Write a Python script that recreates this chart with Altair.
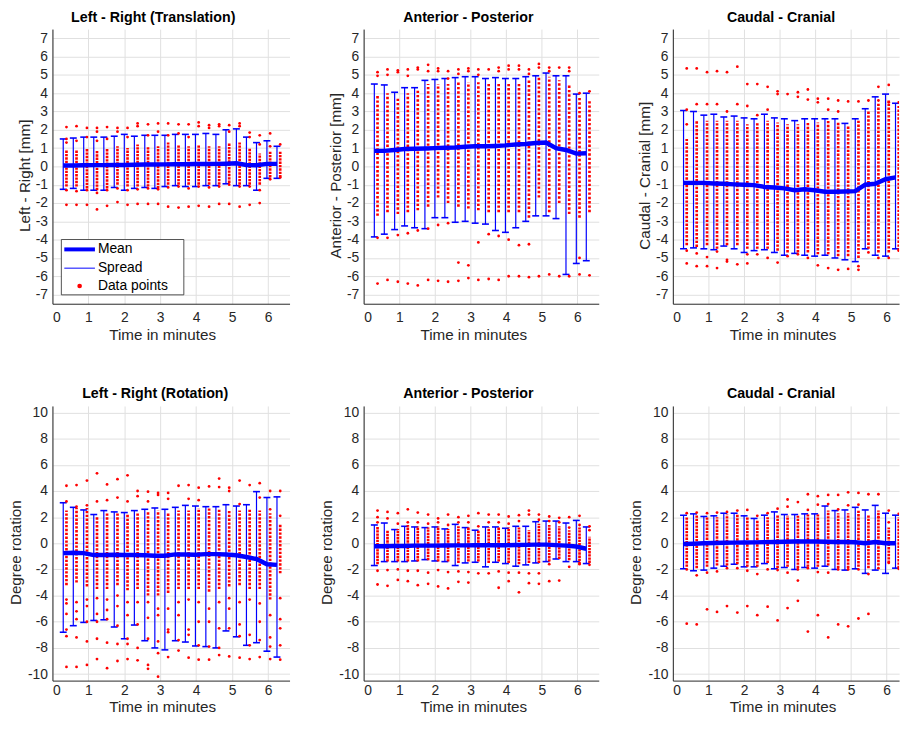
import altair as alt
import pandas as pd

FONT = "Liberation Sans"
BLUE = "#0000ff"
RED = "#ff0000"
AXC = "#262626"
H = 278

# ---------------- data ----------------
bar_times = [0.30, 0.58, 0.87, 1.15, 1.43, 1.72, 2.00, 2.28, 2.57, 2.85, 3.13,
             3.42, 3.70, 3.98, 4.27, 4.55, 4.83, 5.12, 5.40, 5.68, 5.97, 6.25]
point_times = [0.39, 0.67, 0.96, 1.24, 1.52, 1.81, 2.09, 2.37, 2.66, 2.94, 3.22,
               3.51, 3.79, 4.07, 4.36, 4.64, 4.92, 5.21, 5.49, 5.77, 6.06, 6.34]
x_ticks = [0, 1, 2, 3, 4, 5, 6]
y_ticks_mm = [-7, -6, -5, -4, -3, -2, -1, 0, 1, 2, 3, 4, 5, 6, 7]
y_ticks_deg = [-10, -8, -6, -4, -2, 0, 2, 4, 6, 8, 10]
legend_labels = ["Mean", "Spread", "Data points"]

titles = ["Left - Right (Translation)", "Anterior - Posterior", "Caudal - Cranial",
          "Left - Right (Rotation)", "Anterior - Posterior", "Caudal - Cranial"]
y_titles = ["Left - Right [mm]", "Anterior - Posterior [mm]", "Caudal - Cranial [mm]",
            "Degree rotation", "Degree rotation", "Degree rotation"]

# Panel 1: Left - Right (Translation)
p1_mean = [0.05, 0.05, 0.06, 0.07, 0.07, 0.08, 0.08, 0.09, 0.10, 0.10, 0.11,
           0.12, 0.12, 0.13, 0.13, 0.14, 0.15, 0.17, 0.08, 0.06, 0.14, 0.14]
p1_upper = [1.50, 1.55, 1.60, 1.60, 1.60, 1.65, 1.75, 1.65, 1.70, 1.70, 1.70,
            1.75, 1.75, 1.75, 1.80, 1.75, 2.00, 2.05, 1.60, 1.30, 1.40, 1.10]
p1_lower = [-1.25, -1.20, -1.30, -1.30, -1.30, -1.15, -1.30, -1.20, -1.15, -1.20, -1.10,
            -1.05, -1.10, -1.10, -1.05, -1.05, -0.95, -1.05, -1.05, -1.30, -0.65, -0.65]
p1_core_lo = [-1.1, -1.1, -1.2, -1.3, -1.2, -1.0, -1.1, -1.1, -1.1, -1.2, -1.0,
              -1.0, -1.0, -1.0, -1.0, -1.0, -0.9, -1.0, -1.0, -1.0, -0.6, -0.6]
p1_core_hi = [0.9, 0.9, 1.0, 0.9, 1.0, 1.1, 1.0, 1.2, 1.1, 1.1, 1.3,
              1.2, 1.1, 1.2, 1.1, 1.1, 1.3, 1.3, 1.0, 0.7, 0.8, 0.8]
p1_extra = [[2.15, 1.5, 1.3, -1.3, -2.1], [2.2, 1.4, -1.35, -2.1], [2.1, 1.6, -1.3, -2.1],
            [2.1, 1.9, 1.4, -1.45, -2.35], [2.15, 1.5, -1.3, -2.15], [2.1, 1.9, -1.2, -1.95],
            [2.1, 1.6, -1.3, -2.1], [2.35, 2.2, -1.25, -2.05], [2.3, 1.7, -1.2, -2.05],
            [2.35, 1.9, -1.25, -2.05], [2.35, 1.7, -1.15, -2.2], [2.3, 1.8, -1.1, -2.25],
            [2.3, 1.6, -1.2, -2.2], [2.4, 2.2, -1.1, -2.15], [2.25, 2.1, -1.15, -2.2],
            [2.3, 2.2, -1.1, -2.05], [2.25, 1.9, -1.0, -2.05], [2.35, 2.2, -1.1, -2.2],
            [1.85, 1.6, -1.1, -2.1], [1.7, 1.2, -1.3, -2.0], [1.8, 1.1, -0.7], [1.2, -0.6]]

# Panel 2: Anterior - Posterior (translation)
p2_mean = [0.85, 0.85, 0.90, 0.95, 0.97, 0.98, 1.00, 1.02, 1.03, 1.07, 1.10,
           1.10, 1.12, 1.15, 1.20, 1.22, 1.28, 1.30, 1.00, 0.90, 0.70, 0.72]
p2_upper = [4.50, 4.45, 4.05, 4.30, 4.30, 4.70, 4.75, 4.80, 4.85, 4.90, 4.90,
            4.80, 4.85, 4.80, 4.80, 4.90, 4.95, 5.10, 4.95, 4.95, 3.95, 4.00]
p2_lower = [-3.85, -3.70, -3.45, -3.25, -3.35, -3.40, -2.80, -2.80, -3.05, -3.00, -3.10,
            -3.15, -3.50, -3.60, -3.35, -3.00, -2.70, -2.70, -2.85, -5.90, -5.30, -5.15]
p2_core_lo = [-2.7, -2.5, -2.6, -2.5, -2.4, -2.2, -1.7, -2.0, -2.2, -2.3, -2.4,
              -2.5, -2.5, -2.5, -2.5, -2.8, -1.7, -2.5, -2.0, -2.6, -2.8, -2.5]
p2_core_hi = [3.9, 4.0, 3.8, 4.0, 4.2, 4.5, 4.5, 4.5, 4.6, 4.6, 4.6,
              4.5, 4.5, 4.5, 4.5, 4.7, 4.9, 4.9, 4.7, 4.5, 3.8, 3.6]
p2_extra = [[5.15, 4.95, -3.9, -6.4], [5.3, 5.0, -3.9, -6.2], [5.25, 5.15, -3.75, -6.3],
            [5.3, 4.95, -3.65, -6.4], [5.4, 5.3, -3.5, -6.5], [5.55, 5.2, -3.4, -6.2],
            [5.35, 5.2, -3.2, -6.25], [5.2, 4.8, -3.1, -6.3], [5.3, 5.05, -5.25, -6.25],
            [5.35, 5.2, -5.4, -6.1], [5.3, 5.0, -4.15, -6.2], [5.3, -3.7, -6.15],
            [5.4, 5.2, -3.8, -6.2], [5.5, 5.3, -4.0, -6.0], [5.5, 5.3, -4.3, -6.0],
            [5.3, 5.05, -4.25, -6.05], [5.6, 5.4, -6.0], [5.4, 5.2, -5.9], [5.4, -6.0],
            [5.4, 5.2, -6.0], [4.0, -5.0, -5.9], [4.1, -5.95]]

# Panel 3: Caudal - Cranial (translation)
p3_mean = [-0.90, -0.90, -0.90, -0.93, -0.95, -0.98, -1.00, -1.02, -1.12, -1.15, -1.20,
           -1.30, -1.25, -1.30, -1.38, -1.38, -1.37, -1.35, -1.00, -0.95, -0.70, -0.60]
p3_upper = [3.05, 3.00, 2.80, 2.85, 2.70, 2.75, 2.65, 2.60, 2.85, 2.65, 2.60,
            2.50, 2.60, 2.60, 2.60, 2.60, 2.35, 2.60, 3.15, 3.80, 3.95, 3.45]
p3_lower = [-4.50, -4.45, -4.50, -4.55, -4.35, -4.50, -4.70, -4.60, -4.55, -4.70, -4.85,
            -4.75, -4.85, -4.90, -4.85, -5.00, -5.10, -5.20, -4.50, -4.85, -4.90, -4.50]
p3_core_lo = [-4.3, -4.4, -4.3, -4.5, -4.3, -4.3, -4.5, -4.5, -4.5, -4.6, -4.7,
              -4.7, -4.7, -4.8, -4.8, -4.9, -4.9, -5.0, -4.5, -4.7, -4.7, -4.6]
p3_core_hi = [1.5, 2.5, 2.5, 2.5, 2.5, 2.5, 2.3, 2.4, 2.5, 2.4, 2.3,
              2.3, 2.4, 2.4, 2.5, 2.4, 2.2, 2.5, 3.0, 3.5, 3.6, 3.3]
p3_extra = [[5.35, 3.1, 2.3, -4.6, -5.3], [5.35, 3.4, -4.75, -5.45], [5.15, 3.4, -4.95, -5.45],
            [5.2, 3.4, -4.65, -5.55], [5.15, 3.0, -5.1, -5.2], [5.45, 3.4, -5.35],
            [4.5, 3.3, -4.8, -5.3], [4.5, 2.8, -4.8], [4.35, 3.1, -5.0], [4.1, 3.95, -5.25],
            [3.95, -4.9], [4.05, 3.8, -4.8], [4.2, 3.65, -5.0], [3.7, 3.5, -5.4],
            [3.7, 3.1, -5.55], [3.6, 3.0, -5.65], [3.55, -5.6], [3.55, -5.45, -5.65],
            [3.6, -4.7], [4.35, 3.6, -5.0], [4.45, 3.5, -5.0], [3.5, -4.6]]

# Panel 4: Left - Right (Rotation)
p4_mean = [-0.75, -0.72, -0.75, -0.90, -0.90, -0.88, -0.90, -0.90, -0.92, -0.95, -0.95,
           -0.85, -0.85, -0.88, -0.83, -0.83, -0.85, -0.92, -1.05, -1.20, -1.60, -1.65]
p4_upper = [3.10, 2.75, 2.55, 2.20, 2.50, 2.40, 2.35, 2.50, 2.60, 2.70, 2.60,
            2.75, 2.90, 2.85, 2.80, 2.80, 2.95, 2.85, 2.95, 3.95, 3.50, 3.55]
p4_lower = [-6.80, -6.30, -6.05, -5.90, -5.85, -6.40, -7.30, -6.25, -7.45, -8.00, -8.15,
            -7.45, -7.55, -7.85, -7.90, -8.00, -6.70, -7.15, -7.80, -7.60, -8.25, -8.70]
p4_core_lo = [-3.2, -3.0, -3.3, -3.5, -3.5, -3.2, -3.6, -3.5, -4.0, -4.0, -3.8,
              -3.5, -3.5, -3.5, -3.7, -3.5, -3.3, -3.2, -3.5, -3.5, -4.3, -2.3]
p4_core_hi = [2.5, 2.7, 2.7, 2.0, 2.3, 2.3, 2.3, 2.3, 2.4, 2.5, 2.3,
              2.5, 2.5, 2.7, 2.7, 2.6, 2.5, 2.5, 2.6, 2.5, 2.3, 1.5]
p4_extra = [[4.4, 3.2, -4.3, -4.6, -5.4, -6.6, -7.1, -9.45], [4.45, 2.8, -4.5, -5.2, -5.8, -7.2, -9.45],
            [4.8, 2.9, -4.3, -4.8, -6.0, -7.5, -9.3], [5.35, 3.2, -4.2, -5.4, -6.0, -7.3, -8.85],
            [4.5, 3.3, -4.3, -5.1, -5.8, -7.6, -9.55], [4.9, 3.5, -4.0, -4.8, -6.3, -7.7, -9.0],
            [5.2, 3.2, -4.5, -5.5, -7.3, -7.7, -8.85], [4.0, 3.6, -4.5, -6.2, -8.0, -8.95],
            [3.95, 3.2, -4.5, -5.7, -7.3, -9.3, -9.6], [3.85, 3.7, -5.0, -5.5, -7.5, -8.4, -10.2],
            [3.85, 3.4, -5.0, -6.6, -6.8, -8.7], [4.4, -4.5, -5.5, -7.4, -8.2],
            [4.45, 3.4, -4.3, -6.6, -7.0, -8.75], [4.25, 3.3, -4.5, -6.0, -7.8, -8.9],
            [4.35, -5.0, -6.0, -7.9, -8.9], [4.95, 4.3, -4.5, -6.5, -8.0, -8.55],
            [4.25, 4.0, -4.2, -5.0, -6.5, -8.65], [4.8, 3.0, -4.5, -6.2, -7.1, -8.75],
            [4.45, -4.3, -7.0, -7.8, -8.85], [4.6, 3.5, -4.6, -6.0, -7.4, -8.7],
            [4.0, 2.6, -5.5, -7.2, -7.9, -8.85], [4.0, 2.1, -4.2, -5.8, -6.5, -7.8, -8.9]]

# Panel 5: Anterior - Posterior (rotation)
p5_mean = [-0.22, -0.22, -0.20, -0.20, -0.18, -0.18, -0.18, -0.17, -0.16, -0.16, -0.15,
           -0.15, -0.15, -0.15, -0.13, -0.12, -0.10, -0.10, -0.14, -0.18, -0.25, -0.42]
p5_upper = [1.40, 1.55, 1.05, 1.30, 1.25, 1.20, 1.25, 1.10, 1.45, 1.20, 1.00,
            1.25, 1.25, 1.15, 1.30, 1.30, 1.65, 1.70, 1.70, 1.55, 1.75, 1.25]
p5_lower = [-1.70, -1.40, -1.40, -1.40, -1.35, -1.25, -1.35, -1.40, -1.70, -1.50, -1.45,
            -1.80, -1.45, -1.55, -1.75, -1.65, -1.50, -1.40, -1.20, -1.40, -1.40, -1.55]
p5_core_lo = [-1.6, -1.4, -1.4, -1.4, -1.4, -1.3, -1.4, -1.4, -1.5, -1.4, -1.4,
              -1.5, -1.4, -1.5, -1.6, -1.5, -1.5, -1.4, -1.2, -1.3, -1.6, -1.5]
p5_core_hi = [1.3, 1.0, 1.1, 1.4, 1.3, 1.2, 1.3, 1.1, 1.3, 1.2, 1.0,
              1.2, 1.2, 1.2, 1.2, 1.0, 1.5, 1.4, 1.3, 1.0, 1.2, 0.5]
p5_extra = [[2.5, 2.0, 1.6, -2.1, -3.15], [2.4, 1.9, -2.05, -3.25], [2.3, 1.5, -2.0, -2.8],
            [2.6, 1.6, -2.1, -2.9], [2.35, 1.6, -2.1, -3.2], [2.2, 1.5, -2.25, -3.1],
            [1.9, 1.6, -2.05, -3.3], [2.2, 1.4, -2.2, -3.45], [2.0, 1.6, -2.15, -2.95],
            [2.1, 1.6, -2.2, -3.0], [2.3, 1.3, -2.3], [2.2, 1.6, -2.3], [2.2, 1.6, -2.15, -3.4],
            [2.05, 1.5, -2.25, -2.9], [2.15, 1.7, -2.25, -3.75], [2.5, 2.2, -2.3, -3.05],
            [2.2, 1.8, -2.3, -3.1], [2.05, 1.7, -1.6, -2.9], [1.95, 1.6, -2.85],
            [2.0, 1.2, -1.8], [2.1, 1.4, -1.6], [1.3, 1.0, -1.65]]

# Panel 6: Caudal - Cranial (rotation)
p6_mean = [-0.05, -0.03, 0.00, 0.02, 0.04, 0.05, 0.06, 0.07, 0.09, 0.10, 0.12,
           0.13, 0.13, 0.13, 0.12, 0.10, 0.10, 0.08, 0.00, 0.10, 0.00, 0.00]
p6_upper = [2.15, 2.25, 2.05, 2.10, 2.30, 2.30, 2.10, 1.90, 2.15, 2.40, 2.20,
            2.20, 2.25, 2.25, 2.85, 2.50, 2.55, 2.75, 2.55, 2.90, 2.30, 2.15]
p6_lower = [-1.95, -2.10, -2.05, -1.90, -1.75, -1.60, -1.80, -1.80, -1.55, -1.95, -1.85,
            -2.00, -1.85, -1.90, -1.75, -2.00, -2.05, -1.95, -2.30, -2.05, -2.30, -1.90]
p6_core_lo = [-1.8, -1.9, -1.8, -1.7, -1.7, -1.6, -1.8, -1.8, -1.5, -1.9, -1.8,
              -1.9, -1.8, -1.8, -1.7, -1.9, -1.9, -1.8, -1.9, -1.7, -1.5, -1.9]
p6_core_hi = [2.0, 2.2, 2.0, 2.0, 2.2, 2.2, 2.0, 1.8, 2.0, 2.2, 2.1,
              2.1, 2.2, 2.2, 2.5, 2.3, 2.3, 2.5, 2.2, 2.5, 1.2, 2.0]
p6_extra = [[2.3, -2.0, -6.15], [2.35, -2.45, -6.2], [2.3, -2.25, -5.05], [2.35, -2.15, -5.25],
            [2.4, -1.9, -4.8], [2.5, -1.9, -5.3], [2.55, -2.1, -4.8], [2.1, -2.35, -5.5],
            [2.3, -2.0, -4.85], [2.65, -2.05, -5.9], [3.35, 2.8, -2.25, -4.95],
            [3.15, -2.0, -2.85, -4.4], [3.75, 2.55, -1.9, -6.75], [3.6, 2.95, -2.2, -5.5],
            [3.7, 3.0, -2.25, -7.2], [3.7, 2.6, -2.0, -6.2], [3.9, 2.9, -2.0, -6.35],
            [3.85, 2.95, -2.0, -5.75], [3.75, -2.35, -5.4], [3.75, 2.0, -1.9],
            [2.5, 1.6, -1.5], [2.25, -1.95]]


def make_panel(title, ytitle, ydomain, yticks, xmax, width, mean, upper, lower,
               core_lo, core_hi, extra, title_dx, ytitle_pad, xlab_pad, xtitle_y,
               dash_gap, legend=False):
    bars = pd.DataFrame({"t": bar_times, "mean": mean, "lo": lower, "hi": upper})
    core = pd.DataFrame({"t": point_times, "clo": core_lo, "chi": core_hi})
    pts = pd.DataFrame([{"t": point_times[k], "v": v}
                        for k, vals in enumerate(extra) for v in vals])
    xs = alt.Scale(domain=[0, xmax], nice=False, zero=False)
    ys = alt.Scale(domain=ydomain, nice=False, zero=False)
    xaxis = alt.Axis(values=x_ticks, title="Time in minutes", grid=True,
                     labelPadding=xlab_pad, titleX=111, titleY=xtitle_y,
                     labelExpr="'' + datum.value")
    yaxis = alt.Axis(values=yticks, title=ytitle, grid=True, titlePadding=ytitle_pad,
                     titleY=H / 2 + 9, labelExpr="'' + datum.value")

    def X(f="t"):
        return alt.X(f"{f}:Q", scale=xs, axis=xaxis)

    def Y(f):
        return alt.Y(f"{f}:Q", scale=ys, axis=yaxis)

    base = alt.Chart(bars)
    err = base.mark_rule(color=BLUE, strokeWidth=1.2).encode(x=X(), y=Y("lo"), y2="hi:Q")
    cap_lo = base.mark_tick(color=BLUE, orient="horizontal", size=7, thickness=1.6,
                            opacity=1).encode(x=X(), y=Y("lo"))
    cap_hi = base.mark_tick(color=BLUE, orient="horizontal", size=7, thickness=1.6,
                            opacity=1).encode(x=X(), y=Y("hi"))
    core_r = alt.Chart(core).mark_rule(color=RED, strokeWidth=2.7, strokeDash=[2.4, dash_gap],
                                       clip=True).encode(x=X(), y=Y("clo"), y2="chi:Q")
    dots = alt.Chart(pts).mark_circle(color=RED, size=8, opacity=1, clip=True).encode(
        x=X(), y=Y("v"))
    mean_line = base.mark_line(color=BLUE, strokeWidth=4.5).encode(x=X(), y=Y("mean"))
    layers = [err, cap_lo, cap_hi, core_r, dots, mean_line]

    if legend:
        one = alt.Data(values=[{"k": 0}])
        box = alt.Chart(one).mark_rect(fill="white", stroke=AXC, strokeWidth=0.8).encode(
            x=alt.value(9), x2=alt.value(133), y=alt.value(213), y2=alt.value(269))
        l_mean = alt.Chart(one).mark_rule(color=BLUE, strokeWidth=4).encode(
            x=alt.value(12), x2=alt.value(43), y=alt.value(223))
        l_spread = alt.Chart(one).mark_rule(color=BLUE, strokeWidth=1).encode(
            x=alt.value(12), x2=alt.value(43), y=alt.value(242))
        l_dot = alt.Chart(one).mark_circle(color=RED, size=22, opacity=1).encode(
            x=alt.value(27.5), y=alt.value(260))
        texts = []
        for lab, yy in zip(legend_labels, [223, 242, 260]):
            texts.append(alt.Chart(one).mark_text(
                font=FONT, fontSize=14, color="black", align="left", baseline="middle").encode(
                x=alt.value(46), y=alt.value(yy), text=alt.value(lab)))
        layers += [box, l_mean, l_spread, l_dot] + texts

    return alt.layer(*layers).properties(
        width=width, height=H,
        title=alt.TitleParams(text=title, font=FONT, fontSize=14.4, fontWeight="bold",
                              color="black", anchor="middle", baseline="alphabetic",
                              frame="group", offset=-7, dx=title_dx))


panels = [
    make_panel(titles[0], y_titles[0], [-7.5, 7.5], y_ticks_mm, 6.6, 240,
               p1_mean, p1_upper, p1_lower, p1_core_lo, p1_core_hi, p1_extra, -18, 3, 7, 24,
               1.0, legend=True),
    make_panel(titles[1], y_titles[1], [-7.5, 7.5], y_ticks_mm, 6.6, 238,
               p2_mean, p2_upper, p2_lower, p2_core_lo, p2_core_hi, p2_extra, -13, 3, 7, 24,
               2.0),
    make_panel(titles[2], y_titles[2], [-7.5, 7.5], y_ticks_mm, 6.35, 229,
               p3_mean, p3_upper, p3_lower, p3_core_lo, p3_core_hi, p3_extra, -5, 3, 7, 24,
               1.5),
    make_panel(titles[3], y_titles[3], [-10.5, 10.5], y_ticks_deg, 6.6, 240,
               p4_mean, p4_upper, p4_lower, p4_core_lo, p4_core_hi, p4_extra, -16, 4, 3, 19,
               1.5),
    make_panel(titles[4], y_titles[4], [-10.5, 10.5], y_ticks_deg, 6.6, 238,
               p5_mean, p5_upper, p5_lower, p5_core_lo, p5_core_hi, p5_extra, -13, 4, 3, 19,
               0.8),
    make_panel(titles[5], y_titles[5], [-10.5, 10.5], y_ticks_deg, 6.35, 229,
               p6_mean, p6_upper, p6_lower, p6_core_lo, p6_core_hi, p6_extra, -5, 4, 3, 19,
               1.0),
]

chart = alt.concat(*panels, columns=3, spacing={"row": 103.5, "column": 75},
                   bounds="flush", align="each").properties(
    padding={"left": 0, "top": -3, "right": 0, "bottom": 0}
).configure_view(stroke=None).configure_axis(
    domainColor=AXC, domainWidth=1, gridColor="#e0e0e0", gridWidth=1,
    ticks=False, tickSize=0,
    labelFont=FONT, labelFontSize=14, labelColor=AXC,
    titleFont=FONT, titleFontSize=15.4, titleFontWeight="normal", titleColor=AXC,
).configure_axisY(labelPadding=5)

chart.save("out.html", embed_options={"renderer": "svg", "actions": False})
